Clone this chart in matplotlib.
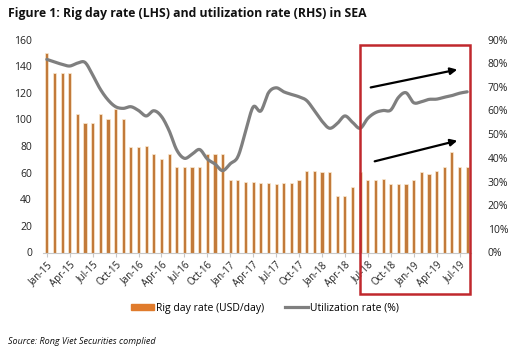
import matplotlib
matplotlib.use("Agg")
import matplotlib.pyplot as plt
from matplotlib.patches import Rectangle, FancyArrowPatch, Patch
from matplotlib.lines import Line2D
import numpy as np

plt.rcParams['font.family'] = ['Open Sans', 'DejaVu Sans']

months = []
mnames = ['Jan', 'Feb', 'Mar', 'Apr', 'May', 'Jun', 'Jul', 'Aug', 'Sep', 'Oct', 'Nov', 'Dec']
for y in range(15, 20):
    for m in mnames:
        months.append(f"{m}-{y}")
months = months[:56]  # Jan-15 .. Aug-19

rig_day_rate = [150, 135, 135, 135, 104, 97, 97, 104, 100, 108,
                100, 79, 79, 80, 74, 70, 74, 64, 64, 64,
                64, 74, 74, 74, 54.5, 54.5, 53, 53, 52.5, 52.5,
                51.5, 52.5, 52.5, 54.5, 61.5, 61.5, 60.5, 60.5, 42.5, 42.5,
                49.5, 60.5, 54.5, 54.5, 55, 51.5, 51.5, 51.5, 54.5, 60.5,
                59, 61.5, 64.5, 75.5, 64.5, 64.5]

utilization = [81.6, 80.5, 79.5, 78.8, 80.0, 80.3, 75.0, 69.0, 64.5, 61.6,
               60.9, 61.6, 60.0, 57.7, 59.9, 57.5, 51.5, 43.3, 39.8, 41.5,
               43.5, 39.5, 37.4, 34.6, 37.5, 40.5, 51.0, 61.5, 59.8, 67.5,
               69.6, 67.9, 66.8, 65.8, 64.2, 60.0, 55.5, 52.5, 54.5, 57.7,
               55.0, 52.5, 56.7, 59.1, 60.0, 60.2, 65.5, 67.5, 63.3, 63.7,
               64.7, 64.8, 65.6, 66.3, 67.3, 67.9]

tick_labels = months[::3]


def smooth(xs, ys, n=12):
    """Catmull-Rom rendering of the line (like a spreadsheet 'smoothed line')."""
    xs = np.asarray(xs, float)
    ys = np.asarray(ys, float)
    px = np.concatenate([[2 * xs[0] - xs[1]], xs, [2 * xs[-1] - xs[-2]]])
    py = np.concatenate([[2 * ys[0] - ys[1]], ys, [2 * ys[-1] - ys[-2]]])
    ox, oy = [], []
    t = np.linspace(0, 1, n, endpoint=False)
    for i in range(1, len(px) - 2):
        for arr, out in ((px, ox), (py, oy)):
            p0, p1, p2, p3 = arr[i - 1], arr[i], arr[i + 1], arr[i + 2]
            out.extend(0.5 * ((2 * p1) + (-p0 + p2) * t + (2 * p0 - 5 * p1 + 4 * p2 - p3) * t ** 2
                              + (-p0 + 3 * p1 - 3 * p2 + p3) * t ** 3))
    ox.append(xs[-1])
    oy.append(ys[-1])
    return np.array(ox), np.array(oy)


W, H = 523, 353
fig = plt.figure(figsize=(W / 100, H / 100), dpi=100)
L, R, B, T = 43, 471, 252.5, 39.5
ax = fig.add_axes([L / W, 1 - B / H, (R - L) / W, (B - T) / H])
ax2 = ax.twinx()

x = np.arange(len(months))
ax.bar(x, rig_day_rate, width=0.42, color='#C27A3A', edgecolor='#FBEBD2', linewidth=0.5, zorder=2)
ax.set_xlim(-0.5, len(months) - 0.5)
ax.set_ylim(0, 160)
ax.set_yticks(range(0, 161, 20))

sx, sy = smooth(x, utilization)
ax2.plot(sx, sy, color='#7F7F7F', lw=2.3, solid_capstyle='round', solid_joinstyle='round', zorder=3)
ax2.set_ylim(0, 90)
ax2.set_yticks(range(0, 91, 10))
ax2.set_yticklabels([f"{v}%" for v in range(0, 91, 10)])

for a in (ax, ax2):
    for s in ['top', 'left', 'right']:
        a.spines[s].set_visible(False)
    a.tick_params(axis='y', length=0, labelsize=7.5, colors='#222222')
ax2.spines['bottom'].set_visible(False)
ax.spines['bottom'].set_color('#C8C8C8')
ax.spines['bottom'].set_linewidth(0.8)
ax.tick_params(axis='y', pad=8)
ax2.tick_params(axis='y', pad=12)

ax.set_xticks(x[::3])
ax.set_xticklabels(tick_labels, rotation=45, ha='right', rotation_mode='anchor', fontsize=7)
ax.tick_params(axis='x', length=3, color='#C8C8C8', pad=2, labelcolor='#222222')

# red highlight box
fig.add_artist(Rectangle((360 / W, 1 - 294 / H), (470 - 360) / W, (294 - 45) / H,
                         transform=fig.transFigure, fill=False, edgecolor='#C0282D', lw=1.8, zorder=5))
# arrows
for (x0, y0, x1, y1) in [(368, 88, 460, 69), (372, 162, 460, 140)]:
    fig.add_artist(FancyArrowPatch((x0 / W, 1 - y0 / H), (x1 / W, 1 - y1 / H),
                                   transform=fig.transFigure, arrowstyle='-|>', mutation_scale=10,
                                   color='black', lw=1.6, zorder=6))

fig.text(8 / W, 1 - 13 / H, "Figure 1: Rig day rate (LHS) and utilization rate (RHS) in SEA",
         fontsize=8.8, fontweight='bold', ha='left', va='center', color='#111111')

handles = [Patch(color='#E07B2C', label='Rig day rate (USD/day)'),
           Line2D([0], [0], color='#7F7F7F', lw=2.3, label='Utilization rate (%)')]
fig.legend(handles=handles, loc='center', bbox_to_anchor=(265 / W, 1 - 308 / H), ncol=2,
           frameon=False, fontsize=7.5, handlelength=2.2, handleheight=0.5, columnspacing=2.0,
           handletextpad=0.2)

fig.text(8 / W, 1 - 341 / H, "Source: Rong Viet Securities complied", fontsize=6.5,
         style='italic', ha='left', va='center', color='#111111')

fig.savefig("out.png", dpi=100)
